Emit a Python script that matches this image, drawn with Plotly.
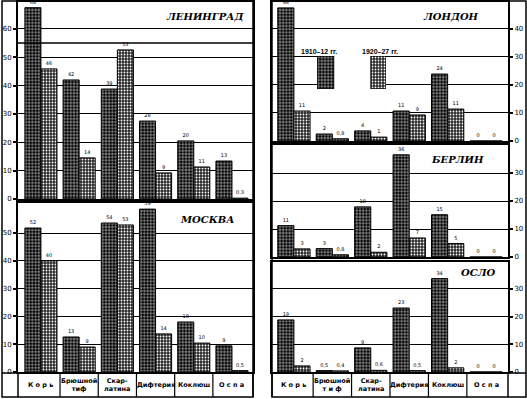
import plotly.graph_objects as go

W, H = 527, 399

categories = ["Корь", "Брюшной тиф", "Скарлатина", "Дифтерия", "Коклюш", "Оспа"]
cat_labels_left = ["К о р ь", "Брюшной<br>тиф", "Скар-<br>латина", "Дифтерия", "Коклюш", "О с п а"]
cat_labels_right = ["К о р ь", "Брюшной<br>т и ф", "Скар-<br>латина", "Дифтерия", "Коклюш", "О с п а"]
period_labels = ["1910–12 гг.", "1920–27 гг."]

leningrad_1910 = [67.5, 42.0, 38.8, 27.5, 20.5, 13.4]
leningrad_1920 = [45.9, 14.5, 52.6, 9.2, 11.3, 0.3]
moscow_1910 = [51.8, 12.6, 53.6, 58.6, 18.0, 9.4]
moscow_1920 = [40.0, 9.0, 52.9, 13.7, 10.4, 0.5]
london_1910 = [47.5, 2.5, 3.6, 10.7, 23.9, 0.0]
london_1920 = [10.7, 0.8, 1.4, 9.3, 11.4, 0.0]
berlin_1910 = [11.2, 3.0, 17.9, 36.5, 15.1, 0.0]
berlin_1920 = [2.9, 0.8, 1.7, 6.8, 4.8, 0.0]
oslo_1910 = [18.8, 0.5, 8.7, 23.1, 33.7, 0.0]
oslo_1920 = [2.2, 0.4, 0.6, 0.5, 1.5, 0.0]

city_names = ["ЛЕНИНГРАД", "МОСКВА", "ЛОНДОН", "БЕРЛИН", "ОСЛО"]


def px(p):
    return p / W


def py(p):
    return 1 - p / H


def fmt(v):
    if v == 0:
        return "0"
    if v < 1:
        return ("%.1f" % v).replace(".", ",")
    return str(int(round(v)))


DARK = dict(color="black", line=dict(color="black", width=1),
            pattern=dict(shape="+", fgcolor="white", bgcolor="black", size=3.2, solidity=0.25, fillmode="replace"))
LIGHT = dict(color="#555", line=dict(color="black", width=1),
             pattern=dict(shape=".", fgcolor="white", bgcolor="#2a2a2a", size=3, solidity=0.28, fillmode="replace"))

LEFT_X = (18, 253)
RIGHT_X = (272, 508)
panels = [
    ("", leningrad_1910, leningrad_1920, LEFT_X, (2, 199), 69.5, [0, 10, 20, 30, 40, 50, 60], "left", city_names[0], (205, 16)),
    ("2", moscow_1910, moscow_1920, LEFT_X, (203, 372), 60.8, [0, 10, 20, 30, 40, 50], "left", city_names[1], (207, 219)),
    ("3", london_1910, london_1920, RIGHT_X, (2, 141), 49.6, [0, 10, 20, 30, 40], "right", city_names[2], (451, 16)),
    ("4", berlin_1910, berlin_1920, RIGHT_X, (145, 257), 40.0, [0, 10, 20, 30], "right", city_names[3], (457, 159)),
    ("5", oslo_1910, oslo_1920, RIGHT_X, (262, 372), 39.7, [0, 10, 20, 30], "right", city_names[4], (478, 272)),
]

fig = go.Figure()
layout = dict(width=W, height=H, margin=dict(l=0, r=0, t=0, b=0, pad=0),
              paper_bgcolor="white", plot_bgcolor="white", showlegend=False,
              barmode="group", bargap=0.16, bargroupgap=0.0,
              font=dict(family="DejaVu Sans", color="black"))
annotations = []
shapes = []

TXT = dict(size=5, color="black", family="DejaVu Sans")

for suf, v1, v2, xd, yd, ytop, tv, side, name, tpos in panels:
    xa = "x" + suf
    ya = "y" + suf
    for vals, mk in ((v1, DARK), (v2, LIGHT)):
        fig.add_trace(go.Bar(x=categories, y=vals, xaxis=xa, yaxis=ya, marker=mk,
                             text=[fmt(v) for v in vals], textposition="outside",
                             textfont=TXT, outsidetextfont=TXT, insidetextfont=TXT,
                             cliponaxis=False, hoverinfo="skip"))
    layout["xaxis" + suf] = dict(domain=[px(xd[0]), px(xd[1])], anchor=ya, type="category",
                                 range=[-0.6 if side == "left" else -0.57, 5.55 if side == "left" else 5.57],
                                 showticklabels=False, ticks="", showgrid=False, zeroline=False,
                                 automargin=False,
                                 showline=True, linecolor="black", linewidth=2, mirror=True)
    layout["yaxis" + suf] = dict(domain=[py(yd[1]), py(yd[0])], anchor=xa, range=[0, ytop],
                                 tickvals=tv, ticktext=[str(t) for t in tv], side=side,
                                 ticks="outside", ticklen=3, tickwidth=1.5, tickcolor="black",
                                 tickfont=dict(size=7, family="DejaVu Sans", color="black"),
                                 automargin=False,
                                 showgrid=True, gridcolor="black", gridwidth=1.4, zeroline=False,
                                 showline=True, linecolor="black", linewidth=2, mirror=True)
    annotations.append(dict(text="<b><i>" + name + "</i></b>", x=px(tpos[0]), y=py(tpos[1]),
                            xref="paper", yref="paper", showarrow=False, xanchor="center", yanchor="middle",
                            font=dict(size=10, family="DejaVu Serif", color="black")))

# Leningrad title separator line
shapes.append(dict(type="line", xref="paper", yref="paper", x0=px(18), x1=px(253), y0=py(43), y1=py(43),
                   line=dict(color="black", width=1.5)))

# legend swatches (London panel)
fig.add_trace(go.Bar(x=[0], y=[1], xaxis="x6", yaxis="y6", marker=DARK, width=0.31, offsetgroup="leg",
                     hoverinfo="skip"))
fig.add_trace(go.Bar(x=[1], y=[1], xaxis="x6", yaxis="y6", marker=LIGHT, width=0.29, offsetgroup="leg",
                     hoverinfo="skip"))
layout["xaxis6"] = dict(domain=[px(317), px(386)], anchor="y6", range=[-0.16, 1.14], visible=False, automargin=False)
layout["yaxis6"] = dict(domain=[py(89), py(56)], anchor="x6", range=[0, 1], visible=False, automargin=False)
for lbl, cx in zip(period_labels, (319, 380)):
    annotations.append(dict(text="<b>" + lbl + "</b>", x=px(cx), y=py(51), xref="paper", yref="paper",
                            showarrow=False, xanchor="center", yanchor="middle",
                            font=dict(size=7, family="Liberation Sans", color="black")))

# category label rows
row_top, row_bot = 373, 397
for xa, labels, xd, outer in (("x2", cat_labels_left, LEFT_X, (2, 253)), ("x5", cat_labels_right, RIGHT_X, (272, 526))):
    for i, lbl in enumerate(labels):
        annotations.append(dict(text="<b>" + lbl + "</b>", x=i, y=py((row_top + row_bot) / 2),
                                xref=xa, yref="paper", showarrow=False, xanchor="center", yanchor="middle",
                                font=dict(size=6.5, family="DejaVu Sans", color="black")))
    for k in range(5):
        shapes.append(dict(type="line", xref=xa, yref="paper", x0=k + 0.5, x1=k + 0.5,
                           y0=py(row_bot), y1=py(row_top), line=dict(color="black", width=1.2)))
    for xv in xd:
        shapes.append(dict(type="line", xref="paper", yref="paper", x0=px(xv), x1=px(xv),
                           y0=py(row_bot), y1=py(row_top), line=dict(color="black", width=1.5)))
    shapes.append(dict(type="rect", xref="paper", yref="paper", x0=px(outer[0]), x1=px(outer[1]),
                       y0=py(row_bot), y1=py(1), line=dict(color="black", width=1.5)))
    shapes.append(dict(type="line", xref="paper", yref="paper", x0=px(outer[0]), x1=px(outer[1]),
                       y0=py(row_top), y1=py(row_top), line=dict(color="black", width=1.5)))

layout["annotations"] = annotations
layout["shapes"] = shapes
fig.update_layout(**layout)
fig.write_html("out.html", config={"displayModeBar": False},
               post_script="document.body.style.margin='0';document.body.style.padding='0';")
